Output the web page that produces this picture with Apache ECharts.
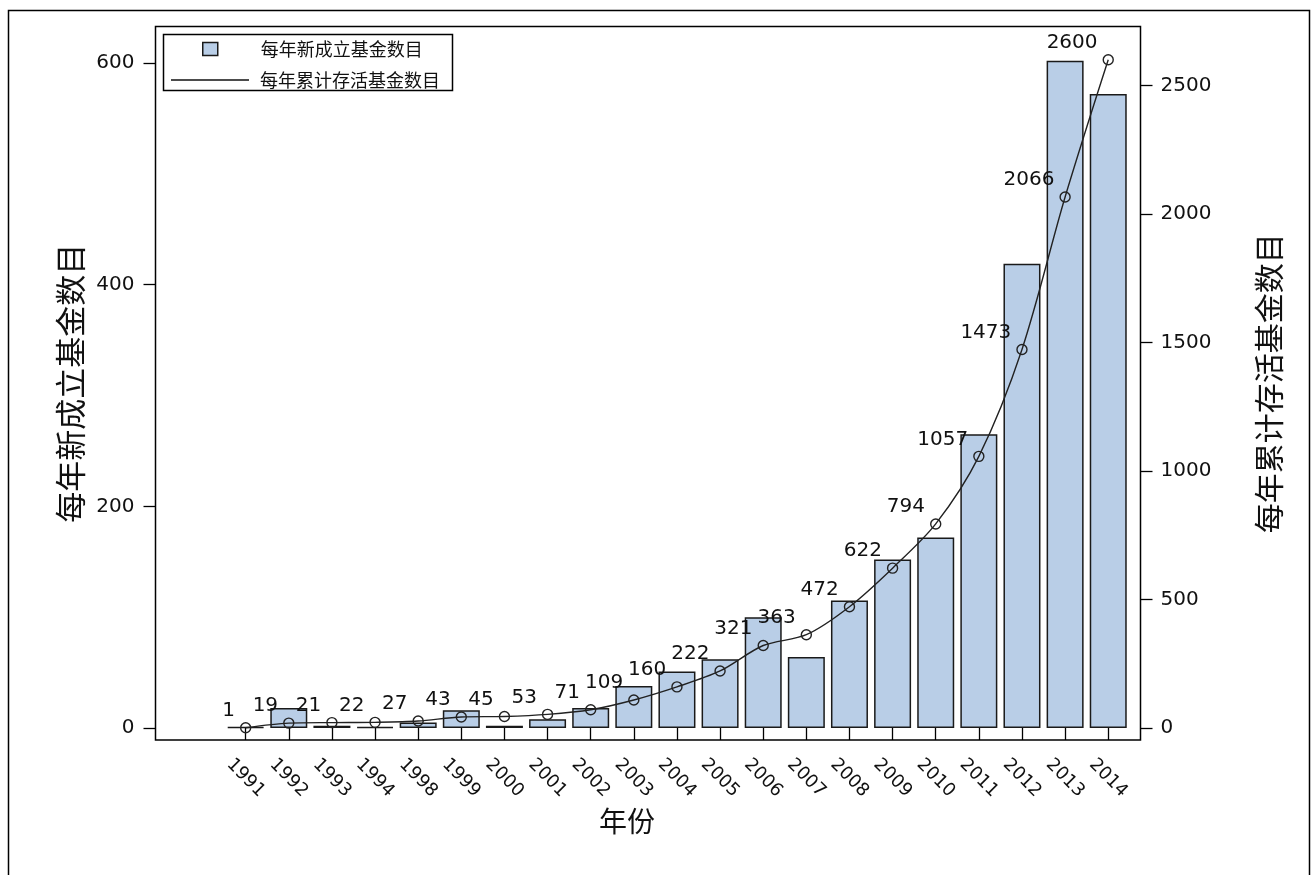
<!DOCTYPE html>
<html>
<head>
<meta charset="utf-8">
<script src="https://cdn.jsdelivr.net/npm/echarts@6/dist/echarts.min.js"></script>
<style>
html,body{margin:0;padding:0;background:#fff;}
#chart{width:1314px;height:875px;}
</style>
</head>
<body>
<div id="chart"></div>
<script>
const years = ['1991','1992','1993','1994','1998','1999','2000','2001','2002','2003','2004','2005','2006','2007','2008','2009','2010','2011','2012','2013','2014'];
const newFunds = [1,18,2,1,5,16,2,8,18,38,51,62,100,64,115,152,172,265,419,602,572];
const cumFunds = [1,19,21,22,27,43,45,53,71,109,160,222,321,363,472,622,794,1057,1473,2066,2600];
const leftTicks = [0,200,400,600];
const rightTicks = [0,500,1000,1500,2000,2500];
const barName = '每年新成立基金数目';
const lineName = '每年累计存活基金数目';
const xName = '年份';

const NUM = 'DejaVu Sans, Liberation Sans, sans-serif';
const CJK = 'Noto Sans CJK SC, sans-serif';
const LMIN = -10.83, LMAX = 633.0;
const RMIN = -46.7, RMAX = 2729.6;

const chart = echarts.init(document.getElementById('chart'));
chart.setOption({
  backgroundColor: '#fff',
  animation: false,
  graphic: [
    {type:'rect', shape:{x:8.5,y:10.5,width:1301,height:900}, style:{fill:'none',stroke:'#000',lineWidth:1.5}, silent:true},
    {type:'rect', shape:{x:163.5,y:34.5,width:289,height:56}, style:{fill:'none',stroke:'#000',lineWidth:1.5}, silent:true, z:10}
  ],
  legend: [
    {data:[barName], left:202, top:40, orient:'vertical', padding:0, itemWidth:15, itemHeight:13,
     icon:'rect',
     itemStyle:{color:'#B9CEE7', borderColor:'#1a1a1a', borderWidth:1.5},
     textStyle:{fontFamily:CJK, fontSize:18, color:'#111', padding:[0,0,0,38]}},
    {data:[lineName], left:171, top:71, orient:'vertical', padding:0, itemWidth:78, itemHeight:1.5,
     icon:'rect',
     itemStyle:{color:'#111', borderWidth:0},
     textStyle:{fontFamily:CJK, fontSize:18, color:'#111', padding:[0,0,0,6]}}
  ],
  grid: [
    {left:155.5, right:173.5, top:26.5, bottom:135, show:true, borderColor:'#000', borderWidth:1.5, backgroundColor:'transparent'},
    {left:224.1, right:184.2, top:26.5, bottom:135}
  ],
  xAxis: [
    {gridIndex:0, type:'value', show:false, min:0, max:1},
    {gridIndex:1, type:'category', data:years, boundaryGap:true,
     axisLine:{show:false},
     axisTick:{show:true, alignWithLabel:true, length:12, lineStyle:{color:'#000', width:1.3}},
     axisLabel:{rotate:-45, align:'center', verticalAlign:'middle', margin:38, fontFamily:NUM, fontSize:18, color:'#111', interval:0},
     name:xName, nameLocation:'middle', nameGap:64,
     nameTextStyle:{fontFamily:CJK, fontSize:28, color:'#111', padding:[0,100,0,0]}}
  ],
  yAxis: [
    {gridIndex:0, type:'value', position:'left', min:LMIN, max:LMAX,
     axisLine:{show:false}, splitLine:{show:false},
     axisTick:{show:true, length:12, customValues:leftTicks, lineStyle:{color:'#000', width:1.3}},
     axisLabel:{customValues:leftTicks, margin:21, fontFamily:NUM, fontSize:20, color:'#111', formatter:(v)=>String(v)},
     name:barName, nameLocation:'middle', nameRotate:90, nameGap:58,
     nameTextStyle:{fontFamily:CJK, fontSize:31, color:'#111'}},
    {gridIndex:0, type:'value', position:'right', min:RMIN, max:RMAX,
     axisLine:{show:false}, splitLine:{show:false},
     axisTick:{show:true, length:12, customValues:rightTicks, lineStyle:{color:'#000', width:1.3}},
     axisLabel:{customValues:rightTicks, margin:20, fontFamily:NUM, fontSize:20, color:'#111', formatter:(v)=>String(v)},
     name:lineName, nameLocation:'middle', nameRotate:90, nameGap:113,
     nameTextStyle:{fontFamily:CJK, fontSize:30, color:'#111'}},
    {gridIndex:1, type:'value', show:false, min:LMIN, max:LMAX, splitLine:{show:false}},
    {gridIndex:1, type:'value', show:false, min:RMIN, max:RMAX, splitLine:{show:false}}
  ],
  series: [
    {name:barName, type:'bar', xAxisIndex:1, yAxisIndex:2, data:newFunds, barWidth:37,
     itemStyle:{color:'#B9CEE7', borderColor:'#1a1a1a', borderWidth:1.5}, z:2},
    {name:lineName, type:'line', xAxisIndex:1, yAxisIndex:3, data:cumFunds, smooth:0.3,
     symbol:'circle', symbolSize:10,
     lineStyle:{color:'#222', width:1.4},
     itemStyle:{color:'rgba(0,0,0,0)', borderColor:'#222', borderWidth:1.4},
     label:{show:true, position:'left', distance:5, offset:[0,-17], fontFamily:NUM, fontSize:20, color:'#111'},
     z:3}
  ]
});
</script>
</body>
</html>
